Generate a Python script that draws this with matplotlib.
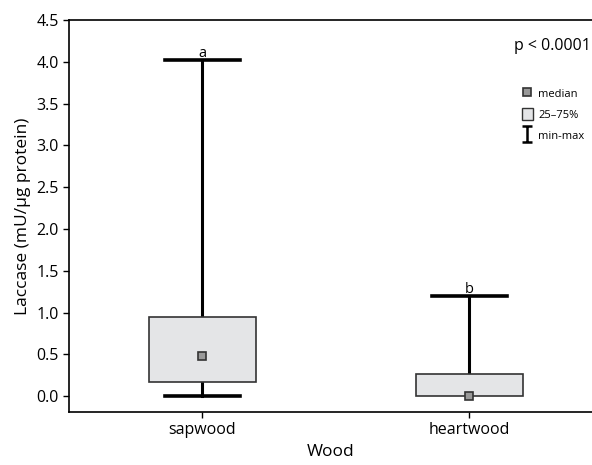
import matplotlib.pyplot as plt
from matplotlib.lines import Line2D
from matplotlib.patches import Patch
from matplotlib.path import Path

plt.rcParams['font.family'] = ['Open Sans', 'DejaVu Sans']

groups = ['sapwood', 'heartwood']
mins = [0.0, 0.0]
q1 = [0.17, 0.0]
medians = [0.48, 0.0]
q3 = [0.95, 0.27]
maxs = [4.02, 1.2]
letters = ['a', 'b']

box_fill = '#e4e5e7'
med_fill = '#999999'

fig = plt.figure(figsize=(5.92, 4.65), dpi=100)
ax = fig.add_axes([69 / 592, 53 / 465, 1 - 69 / 592, 392 / 465])

width = 0.4
cap = 0.28
for i, g in enumerate(groups):
    # whisker line, min to max
    ax.plot([i, i], [mins[i], maxs[i]], color='black', lw=2.2, zorder=1)
    ax.plot([i - cap / 2, i + cap / 2], [maxs[i], maxs[i]], color='black', lw=2.6, zorder=1)
    if mins[i] < q1[i]:
        ax.plot([i - cap / 2, i + cap / 2], [mins[i], mins[i]], color='black', lw=2.6, zorder=1)
    ax.bar(i, q3[i] - q1[i], bottom=q1[i], width=width, color=box_fill,
           edgecolor='#333333', linewidth=1.2, zorder=2)
    ax.plot(i, medians[i], marker='s', markersize=6, markerfacecolor=med_fill,
            markeredgecolor='#333333', markeredgewidth=1.2, zorder=3)
    ax.text(i, maxs[i] - 0.01, letters[i], ha='center', va='bottom', fontsize=10.5)

ax.set_xlim(-0.5, 1.46)
ax.set_ylim(-0.19, 4.5)
ax.set_yticks([0.0, 0.5, 1.0, 1.5, 2.0, 2.5, 3.0, 3.5, 4.0, 4.5])
ax.set_yticklabels(['%.1f' % v for v in ax.get_yticks()])
ax.set_xticks(range(len(groups)))
ax.set_xticklabels(groups)
ax.tick_params(labelsize=11.5, width=1, length=4)
ax.spines['right'].set_visible(False)
for s in ['left', 'bottom', 'top']:
    ax.spines[s].set_linewidth(1.2)
ax.set_xlabel('Wood', fontsize=12.5)
ax.set_ylabel('Laccase (mU/µg protein)', fontsize=12.5)

ax.text(0.997, 0.955, 'p < 0.0001', transform=ax.transAxes, ha='right', va='top', fontsize=11.5)

# I-beam marker for the min-max legend entry
ibeam = Path([(-0.7, 1), (0.7, 1), (0, 1), (0, -1), (-0.7, -1), (0.7, -1)],
             [Path.MOVETO, Path.LINETO, Path.MOVETO, Path.LINETO, Path.MOVETO, Path.LINETO])
handles = [
    Line2D([], [], ls='', marker='s', markersize=6, markerfacecolor=med_fill,
           markeredgecolor='#333333', markeredgewidth=1.2),
    Patch(facecolor=box_fill, edgecolor='#333333', linewidth=1),
    Line2D([], [], ls='', marker=ibeam, markersize=11, markerfacecolor='none',
           markeredgecolor='black', markeredgewidth=1.8),
]
ax.legend(handles, ['median', '25–75%', 'min-max'], loc='upper right',
          bbox_to_anchor=(1.005, 0.855), frameon=False, fontsize=8,
          handlelength=1.0, handleheight=1.3, handletextpad=0.5, labelspacing=0.75)

fig.savefig('out.png', dpi=100)
